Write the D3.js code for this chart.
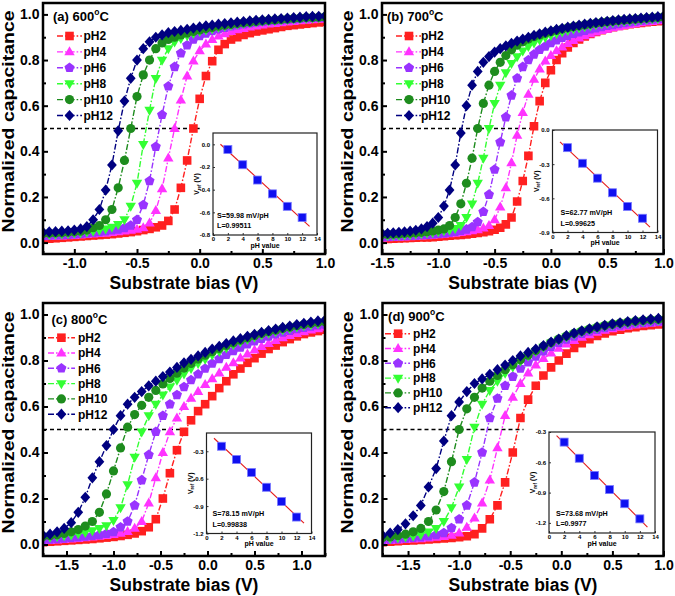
<!DOCTYPE html>
<html><head><meta charset="utf-8">
<script src="https://cdn.jsdelivr.net/npm/d3@7"></script>
<style>
body{margin:0;background:#fff}
svg{display:block}
text{font-family:"Liberation Sans",Arial,Helvetica,sans-serif;font-weight:bold;fill:#000}
</style>
</head><body>
<svg id="chart" width="675" height="596"></svg>
<script>
// ---------------- DATA ----------------
const phLabels = ['pH2','pH4','pH6','pH8','pH10','pH12'];
const seriesColors = ['#ff2020','#ff33ff','#9933ff','#33ff33','#1e8c1e','#000080'];
const panelTitles = ['(a) 600','(b) 700','(c) 800','(d) 900'];

// substrate bias sweeps (V)
const biasA = [-1.25,-1.2,-1.15,-1.1,-1.05,-1,-0.95,-0.9,-0.85,-0.8,-0.75,-0.7,-0.65,-0.6,-0.55,-0.5,-0.45,-0.4,-0.35,-0.3,-0.25,-0.2,-0.15,-0.1,-0.05,0,0.05,0.1,0.15,0.2,0.25,0.3,0.35,0.4,0.45,0.5,0.55,0.6,0.65,0.7,0.75,0.8,0.85,0.9,0.95,1];
const biasB = [-1.5,-1.45,-1.4,-1.35,-1.3,-1.25,-1.2,-1.15,-1.1,-1.05,-1,-0.95,-0.9,-0.85,-0.8,-0.75,-0.7,-0.65,-0.6,-0.55,-0.5,-0.45,-0.4,-0.35,-0.3,-0.25,-0.2,-0.15,-0.1,-0.05,0,0.05,0.1,0.15,0.2,0.25,0.3,0.35,0.4,0.45,0.5,0.55,0.6,0.65,0.7,0.75,0.8,0.85,0.9,0.95,1];
const biasC = [-1.75,-1.675,-1.6,-1.525,-1.45,-1.375,-1.3,-1.225,-1.15,-1.075,-1,-0.925,-0.85,-0.775,-0.7,-0.625,-0.55,-0.475,-0.4,-0.325,-0.25,-0.175,-0.1,-0.025,0.05,0.125,0.2,0.275,0.35,0.425,0.5,0.575,0.65,0.725,0.8,0.875,0.95,1.025,1.1,1.175,1.25];
const biasD = [-1.75,-1.675,-1.6,-1.525,-1.45,-1.375,-1.3,-1.225,-1.15,-1.075,-1,-0.925,-0.85,-0.775,-0.7,-0.625,-0.55,-0.475,-0.4,-0.325,-0.25,-0.175,-0.1,-0.025,0.05,0.125,0.2,0.275,0.35,0.425,0.5,0.575,0.65,0.725,0.8,0.875,0.95,1.025];

// normalized capacitance, panel (a) 600 C
const capA_pH2 = [.015,.017,.019,.021,.023,.025,.027,.029,.031,.033,.035,.037,.04,.043,.046,.05,.055,.06,.067,.075,.095,.145,.24,.36,.5,.63,.73,.795,.845,.87,.89,.9,.91,.918,.925,.93,.935,.94,.945,.95,.953,.956,.959,.962,.965,.967];
const capA_pH4 = [.025,.026,.027,.028,.03,.031,.033,.035,.037,.039,.041,.044,.047,.05,.054,.058,.065,.085,.14,.235,.37,.5,.625,.73,.795,.84,.87,.89,.905,.915,.925,.932,.938,.944,.949,.953,.957,.96,.963,.966,.969,.972,.974,.976,.978,.98];
const capA_pH6 = [.03,.031,.032,.033,.035,.037,.039,.041,.044,.047,.05,.054,.058,.064,.075,.1,.165,.27,.42,.56,.685,.77,.83,.865,.89,.905,.917,.927,.935,.942,.948,.953,.957,.961,.965,.968,.971,.973,.975,.977,.979,.981,.983,.984,.985,.986];
const capA_pH8 = [.035,.036,.037,.038,.04,.042,.044,.047,.05,.055,.06,.068,.08,.1,.16,.26,.43,.58,.72,.8,.85,.88,.895,.907,.917,.925,.932,.938,.944,.949,.953,.957,.961,.964,.967,.97,.972,.974,.976,.978,.98,.982,.984,.985,.986,.987];
const capA_pH10 = [.04,.041,.042,.043,.045,.047,.05,.055,.065,.075,.1,.145,.24,.36,.5,.64,.735,.8,.85,.875,.89,.9,.91,.918,.925,.932,.938,.943,.948,.952,.956,.96,.963,.966,.969,.972,.974,.976,.978,.98,.982,.984,.986,.987,.988,.989];
const capA_pH12 = [.045,.047,.048,.05,.052,.055,.06,.07,.1,.145,.23,.34,.49,.62,.72,.8,.85,.88,.9,.91,.92,.925,.93,.935,.94,.945,.95,.953,.957,.96,.963,.966,.969,.972,.974,.976,.978,.98,.982,.984,.986,.988,.99,.991,.992,.993];

// panel (b) 700 C
const capB_pH2 = [.015,.016,.017,.018,.019,.02,.021,.022,.023,.024,.026,.028,.03,.032,.034,.036,.039,.042,.046,.05,.056,.065,.08,.11,.18,.27,.38,.51,.62,.7,.755,.8,.83,.855,.875,.89,.903,.914,.923,.931,.938,.944,.949,.953,.957,.96,.963,.966,.968,.97,.972];
const capB_pH4 = [.02,.021,.022,.023,.024,.025,.026,.028,.03,.032,.034,.036,.038,.041,.044,.047,.051,.056,.063,.075,.1,.155,.24,.35,.47,.57,.65,.715,.76,.795,.82,.84,.857,.872,.885,.896,.906,.915,.922,.929,.935,.941,.946,.951,.955,.959,.963,.966,.969,.972,.975];
const capB_pH6 = [.025,.026,.027,.028,.029,.03,.031,.033,.035,.037,.039,.041,.044,.048,.052,.058,.068,.09,.135,.21,.32,.44,.55,.645,.72,.77,.8,.825,.845,.86,.875,.887,.898,.907,.915,.922,.929,.935,.94,.945,.95,.954,.958,.962,.966,.969,.972,.975,.978,.98,.982];
const capB_pH8 = [.03,.031,.032,.033,.034,.036,.038,.04,.042,.045,.048,.052,.056,.062,.075,.11,.17,.26,.37,.5,.61,.69,.745,.785,.815,.84,.86,.875,.888,.899,.908,.916,.923,.93,.936,.941,.946,.951,.955,.959,.962,.965,.968,.971,.973,.975,.977,.979,.981,.983,.985];
const capB_pH10 = [.035,.036,.037,.038,.04,.041,.043,.045,.048,.051,.055,.06,.075,.11,.17,.26,.37,.5,.61,.69,.75,.79,.82,.845,.865,.88,.892,.902,.91,.917,.924,.93,.936,.941,.946,.95,.954,.958,.962,.965,.968,.971,.973,.975,.977,.979,.981,.983,.985,.987,.989];
const capB_pH12 = [.04,.041,.043,.045,.047,.05,.054,.06,.07,.085,.11,.16,.23,.34,.48,.6,.69,.75,.79,.815,.835,.85,.862,.873,.883,.892,.9,.908,.915,.922,.928,.934,.939,.944,.949,.953,.957,.961,.964,.967,.97,.973,.976,.978,.98,.982,.984,.986,.988,.99,.992];

// panel (c) 800 C
const capC_pH2 = [.01,.012,.014,.016,.018,.02,.022,.024,.027,.03,.033,.037,.042,.048,.058,.075,.11,.2,.31,.41,.49,.54,.58,.61,.645,.68,.71,.74,.765,.79,.81,.83,.85,.865,.88,.893,.905,.915,.922,.928,.934];
const capC_pH4 = [.015,.017,.019,.021,.023,.026,.029,.032,.035,.039,.043,.048,.056,.07,.1,.18,.29,.4,.49,.55,.6,.635,.665,.695,.72,.745,.77,.79,.81,.828,.845,.86,.874,.887,.898,.908,.917,.925,.932,.938,.944];
const capC_pH6 = [.02,.022,.024,.026,.029,.032,.035,.038,.042,.047,.054,.075,.1,.17,.28,.39,.49,.56,.61,.65,.685,.715,.74,.765,.787,.807,.825,.842,.857,.871,.884,.895,.905,.914,.922,.93,.937,.943,.948,.953,.957];
const capC_pH8 = [.03,.032,.035,.038,.042,.047,.053,.06,.07,.082,.105,.16,.26,.38,.49,.56,.61,.65,.685,.715,.742,.766,.787,.806,.824,.84,.855,.869,.881,.892,.902,.911,.919,.927,.934,.94,.946,.951,.956,.96,.964];
const capC_pH10 = [.035,.038,.042,.048,.055,.065,.08,.1,.14,.22,.32,.42,.51,.565,.605,.64,.67,.698,.722,.745,.767,.787,.806,.823,.838,.852,.865,.877,.888,.898,.908,.917,.925,.932,.939,.945,.951,.956,.961,.965,.969];
const capC_pH12 = [.04,.045,.055,.07,.095,.14,.205,.29,.36,.43,.5,.56,.61,.64,.665,.69,.71,.73,.75,.77,.79,.805,.82,.835,.85,.862,.874,.885,.895,.905,.914,.922,.93,.937,.944,.95,.956,.962,.967,.972,.976];

// panel (d) 900 C
const capD_pH2 = [.01,.012,.014,.016,.018,.02,.022,.024,.026,.029,.032,.036,.045,.07,.11,.17,.27,.4,.55,.63,.69,.735,.77,.8,.83,.855,.875,.893,.907,.918,.927,.934,.94,.945,.95,.954,.957,.96];
const capD_pH4 = [.015,.017,.019,.021,.023,.025,.028,.031,.034,.04,.05,.075,.115,.18,.28,.42,.56,.64,.7,.745,.78,.808,.832,.853,.871,.887,.901,.912,.922,.931,.938,.944,.949,.954,.958,.961,.964,.966];
const capD_pH6 = [.02,.022,.024,.026,.029,.032,.036,.042,.05,.072,.11,.17,.27,.4,.55,.635,.69,.73,.765,.793,.818,.84,.86,.877,.892,.905,.916,.926,.934,.941,.947,.952,.957,.961,.964,.967,.97,.972];
const capD_pH8 = [.025,.027,.03,.033,.037,.043,.055,.07,.1,.16,.25,.37,.51,.61,.67,.71,.745,.772,.797,.82,.84,.858,.875,.89,.903,.915,.925,.934,.942,.949,.955,.96,.964,.968,.971,.974,.976,.978];
const capD_pH10 = [.03,.033,.038,.045,.055,.07,.1,.15,.23,.36,.5,.59,.64,.68,.71,.735,.76,.782,.803,.823,.843,.862,.878,.893,.906,.918,.928,.937,.945,.952,.958,.963,.967,.971,.974,.977,.979,.981];
const capD_pH12 = [.04,.05,.065,.09,.125,.17,.25,.33,.45,.56,.62,.665,.7,.72,.74,.76,.78,.8,.82,.835,.85,.865,.88,.893,.908,.919,.929,.938,.946,.953,.959,.964,.969,.973,.977,.98,.983,.985];

// bias where the 0.5 reference (dashed) line ends
const dashEnd = [0.0, -0.14, -0.2, -0.37];

// x tick labels of each panel
const xTicksA = [-1.0,-0.5,0.0,0.5,1.0];
const xTicksB = [-1.5,-1.0,-0.5,0.0,0.5,1.0];
const xTicksC = [-1.5,-1.0,-0.5,0.0,0.5,1.0];
const xTicksD = [-1.5,-1.0,-0.5,0.0,0.5,1.0];
const yTicks = [0.0,0.2,0.4,0.6,0.8,1.0];

// insets: V_ref vs pH
const insetPH = [2,4,6,8,10,12];
const insetA = [-0.045,-0.18,-0.315,-0.437,-0.547,-0.646];
const insetB = [-0.155,-0.292,-0.423,-0.551,-0.671,-0.775];
const insetC = [-0.245,-0.39,-0.532,-0.694,-0.85,-1.02];
const insetD = [-0.40,-0.56,-0.73,-0.87,-1.01,-1.16];
const insetXTicks = [0,2,4,6,8,10,12,14];
const insetYTicksA = [0.0,-0.2,-0.4,-0.6,-0.8];
const insetYTicksB = [0.0,-0.3,-0.6,-0.9];
const insetYTicksC = [-0.3,-0.6,-0.9,-1.2];
const insetYTicksD = [-0.3,-0.6,-0.9,-1.2];
const insetS = ['S=59.98 mV/pH','S=62.77 mV/pH','S=78.15 mV/pH','S=73.68 mV/pH'];
const insetL = ['L=0.99511','L=0.99625','L=0.99838','L=0.9977'];

// ---------------- LAYOUT ----------------
const panels = [
  {bias:biasA, caps:[capA_pH2,capA_pH4,capA_pH6,capA_pH8,capA_pH10,capA_pH12], xDomain:[-1.25,1.0], xTicks:xTicksA,
   left:43, right:325, top:3, bottom:254,
   leg:{tx:10, ty:17.5, r0:33, dr:15.9, l0:14, l1:39, mx:26.5, tt:40.5},
   inset:{left:213, right:317, top:133, bottom:235, yDomain:[-0.8,0.1], yTicks:insetYTicksA, v:insetA, sx:4}},
  {bias:biasB, caps:[capB_pH2,capB_pH4,capB_pH6,capB_pH8,capB_pH10,capB_pH12], xDomain:[-1.5,1.0], xTicks:xTicksB,
   left:382, right:663.5, top:3, bottom:254,
   leg:{tx:5, ty:17.5, r0:33, dr:15.9, l0:14, l1:39, mx:27, tt:39},
   inset:{left:552.5, right:657.5, top:130, bottom:232.5, yDomain:[-0.9,0.0], yTicks:insetYTicksB, v:insetB, sx:8}},
  {bias:biasC, caps:[capC_pH2,capC_pH4,capC_pH6,capC_pH8,capC_pH10,capC_pH12], xDomain:[-1.75,1.25], xTicks:xTicksC,
   left:43, right:325, top:303, bottom:556,
   leg:{tx:8.5, ty:20.5, r0:34.7, dr:15.3, l0:5, l1:32, mx:18.4, tt:35},
   inset:{left:206.5, right:311.5, top:433, bottom:533.5, yDomain:[-1.2,-0.1], yTicks:insetYTicksC, v:insetC, sx:6}},
  {bias:biasD, caps:[capD_pH2,capD_pH4,capD_pH6,capD_pH8,capD_pH10,capD_pH12], xDomain:[-1.75,1.0], xTicks:xTicksD,
   left:382.5, right:663.5, top:303, bottom:556,
   leg:{tx:5.6, ty:17.5, r0:30.7, dr:14.8, l0:2.5, l1:27.5, mx:15.6, tt:30.6},
   inset:{left:549, right:655, top:432, bottom:533, yDomain:[-1.3,-0.3], yTicks:insetYTicksD, v:insetD, sx:7}}
];

// ---------------- MARKERS ----------------
function poly(pts){return {draw(c){c.moveTo(pts[0][0],pts[0][1]);for(let i=1;i<pts.length;i++)c.lineTo(pts[i][0],pts[i][1]);c.closePath();}};}
const pent = [0,1,2,3,4].map(i=>{const a=-Math.PI/2+i*2*Math.PI/5;return [5.3*Math.cos(a),5.3*Math.sin(a)];});
const symTypes = [
  poly([[-4.3,-4.3],[4.3,-4.3],[4.3,4.3],[-4.3,4.3]]),
  poly([[0,-5.6],[5.2,3.4],[-5.2,3.4]]),
  poly(pent),
  poly([[0,5.6],[5.2,-3.4],[-5.2,-3.4]]),
  {draw(c){c.moveTo(4.6,0);c.arc(0,0,4.6,0,2*Math.PI);}},
  poly([[0,-5.6],[4.9,0],[0,5.6],[-4.9,0]])
];
const symPath = symTypes.map(t=>d3.symbol().type(t).size(1)());
const dashPat = '6,2,1.6,2';

const svg = d3.select('#chart');
const FONT = '"Liberation Sans",Arial,Helvetica,sans-serif';

function styleAxisText(g, size){
  g.selectAll('text').attr('font-size',size).attr('font-weight','bold').attr('font-family',FONT).attr('fill','#000');
  g.select('.domain').remove();
}

panels.forEach((p,pi)=>{
  const x = d3.scaleLinear().domain(p.xDomain).range([p.left,p.right]);
  const y = d3.scaleLinear().domain([-0.05,1.05]).range([p.bottom,p.top]);
  const clipId = 'clip'+pi;
  svg.append('clipPath').attr('id',clipId).append('rect')
    .attr('x',p.left).attr('y',p.top).attr('width',p.right-p.left).attr('height',p.bottom-p.top);
  const plot = svg.append('g').attr('clip-path',`url(#${clipId})`);

  // dashed 0.5 line
  plot.append('line').attr('x1',x(p.xDomain[0])).attr('x2',x(dashEnd[pi]))
    .attr('y1',y(0.5)).attr('y2',y(0.5)).attr('stroke','#000').attr('stroke-width',1.3).attr('stroke-dasharray','4,3');

  // curves
  p.caps.forEach((arr,k)=>{
    const n = Math.min(arr.length,p.bias.length);
    const pts = p.bias.slice(0,n).map((v,i)=>[v,arr[i]]);
    plot.append('path').datum(pts)
      .attr('d',d3.line().x(d=>x(d[0])).y(d=>y(d[1])))
      .attr('fill','none').attr('stroke',seriesColors[k]).attr('stroke-width',1.4).attr('stroke-dasharray',dashPat);
    plot.append('g').selectAll('path').data(pts).join('path')
      .attr('transform',d=>`translate(${x(d[0])},${y(d[1])})`)
      .attr('d',symPath[k]).attr('fill',seriesColors[k]);
  });

  // axes
  const minorX = [];
  p.xTicks.forEach(t=>{[t-0.25,t+0.25].forEach(m=>{if(m>=p.xDomain[0]-1e-9&&m<=p.xDomain[1]+1e-9&&!minorX.some(v=>Math.abs(v-m)<1e-6)&&!p.xTicks.some(v=>Math.abs(v-m)<1e-6))minorX.push(m);});});
  const gx = svg.append('g').attr('transform',`translate(0,${p.bottom})`)
    .call(d3.axisBottom(x).tickValues(p.xTicks).tickSize(-5).tickPadding(4.5).tickFormat(d=>d.toFixed(1)));
  gx.selectAll('line').attr('stroke','#000').attr('stroke-width',2);
  styleAxisText(gx,14);
  const gxm = svg.append('g').attr('transform',`translate(0,${p.bottom})`)
    .call(d3.axisBottom(x).tickValues(minorX).tickSize(-3).tickFormat(''));
  gxm.selectAll('line').attr('stroke','#000').attr('stroke-width',2);
  gxm.select('.domain').remove();

  const gy = svg.append('g').attr('transform',`translate(${p.left},0)`)
    .call(d3.axisLeft(y).tickValues(yTicks).tickSize(-5).tickPadding(3.5).tickFormat(d=>d.toFixed(1)));
  gy.selectAll('line').attr('stroke','#000').attr('stroke-width',2);
  styleAxisText(gy,14);
  const gym = svg.append('g').attr('transform',`translate(${p.left},0)`)
    .call(d3.axisLeft(y).tickValues([0.1,0.3,0.5,0.7,0.9]).tickSize(-3).tickFormat(''));
  gym.selectAll('line').attr('stroke','#000').attr('stroke-width',2);
  gym.select('.domain').remove();

  // frame
  svg.append('rect').attr('x',p.left).attr('y',p.top).attr('width',p.right-p.left).attr('height',p.bottom-p.top)
    .attr('fill','none').attr('stroke','#000').attr('stroke-width',2.5);

  // axis titles
  svg.append('text').attr('x',(p.left+p.right)/2).attr('y',p.bottom+34.5).attr('text-anchor','middle')
    .attr('font-size',17.5).text('Substrate bias (V)');
  const cy = (p.top+p.bottom)/2 - 7;
  svg.append('text').attr('transform',`translate(${p.left-34.8},${cy}) rotate(-90) scale(1,0.82)`).attr('text-anchor','middle')
    .attr('dy','0.35em').attr('font-size',19.5).text('Normalized capacitance');

  // legend
  const L = p.leg;
  const tt = svg.append('text').attr('x',p.left+L.tx).attr('y',p.top+L.ty).attr('font-size',13);
  tt.append('tspan').text(panelTitles[pi]);
  tt.append('tspan').attr('font-size',8.5).attr('dy',-5.5).text('o');
  tt.append('tspan').attr('dy',5.5).text('C');
  phLabels.forEach((lab,k)=>{
    const yy = p.top + L.r0 + k*L.dr;
    svg.append('line').attr('x1',p.left+L.l0).attr('x2',p.left+L.l1).attr('y1',yy).attr('y2',yy)
      .attr('stroke',seriesColors[k]).attr('stroke-width',1.4).attr('stroke-dasharray',dashPat);
    svg.append('path').attr('transform',`translate(${p.left+L.mx},${yy})`).attr('d',symPath[k]).attr('fill',seriesColors[k]);
    svg.append('text').attr('x',p.left+L.tt).attr('y',yy+4.3).attr('font-size',12).text(lab);
  });

  // inset
  const I = p.inset;
  const ix = d3.scaleLinear().domain([0,14]).range([I.left,I.right]);
  const iy = d3.scaleLinear().domain(I.yDomain).range([I.bottom,I.top]);
  svg.append('rect').attr('x',I.left).attr('y',I.top).attr('width',I.right-I.left).attr('height',I.bottom-I.top)
    .attr('fill','#fff').attr('stroke','none');
  const ig = svg.append('g');
  const igx = ig.append('g').attr('transform',`translate(0,${I.bottom})`)
    .call(d3.axisBottom(ix).tickValues(insetXTicks).tickSize(-2).tickPadding(2).tickFormat(d=>String(d)));
  igx.selectAll('line').attr('stroke','#000').attr('stroke-width',0.8);
  styleAxisText(igx,6);
  const igy = ig.append('g').attr('transform',`translate(${I.left},0)`)
    .call(d3.axisLeft(iy).tickValues(I.yTicks).tickSize(-2).tickPadding(3).tickFormat(d=>d.toFixed(1)));
  igy.selectAll('line').attr('stroke','#000').attr('stroke-width',0.8);
  styleAxisText(igy,6);

  // linear fit computed from the inset points
  const mx = d3.mean(insetPH), my = d3.mean(I.v);
  const slope = d3.sum(insetPH.map((v,i)=>(v-mx)*(I.v[i]-my))) / d3.sum(insetPH.map(v=>(v-mx)*(v-mx)));
  const icpt = my - slope*mx;
  const fit = [1,13].map(ph=>[ph, icpt+slope*ph]);
  ig.append('path').datum(fit).attr('d',d3.line().x(d=>ix(d[0])).y(d=>iy(d[1])))
    .attr('stroke','#e41a1a').attr('stroke-width',1.1).attr('fill','none');
  ig.selectAll('rect.pt').data(insetPH.map((v,i)=>[v,I.v[i]])).join('rect').attr('class','pt')
    .attr('x',d=>ix(d[0])-4).attr('y',d=>iy(d[1])-4).attr('width',8).attr('height',8)
    .attr('fill','#1010f0').attr('stroke','#7a7aff').attr('stroke-width',0.8);
  ig.append('rect').attr('x',I.left).attr('y',I.top).attr('width',I.right-I.left).attr('height',I.bottom-I.top)
    .attr('fill','none').attr('stroke','#222').attr('stroke-width',1.2);
  ig.append('text').attr('x',I.left+I.sx).attr('y',I.bottom-17.5).attr('font-size',7.2).text(insetS[pi]);
  ig.append('text').attr('x',I.left+I.sx).attr('y',I.bottom-7).attr('font-size',7.2).text(insetL[pi]);
  ig.append('text').attr('x',(I.left+I.right)/2).attr('y',I.bottom+12.5).attr('text-anchor','middle')
    .attr('font-size',7).text('pH value');
  const vl = ig.append('text').attr('transform',`translate(${I.left-14},${(I.top+I.bottom)/2}) rotate(-90)`)
    .attr('text-anchor','middle').attr('font-size',7);
  vl.append('tspan').text('V');
  vl.append('tspan').attr('font-size',4.5).attr('dy',1.5).text('ref');
  vl.append('tspan').attr('dy',-1.5).text(' (V)');
});
</script>
</body></html>
